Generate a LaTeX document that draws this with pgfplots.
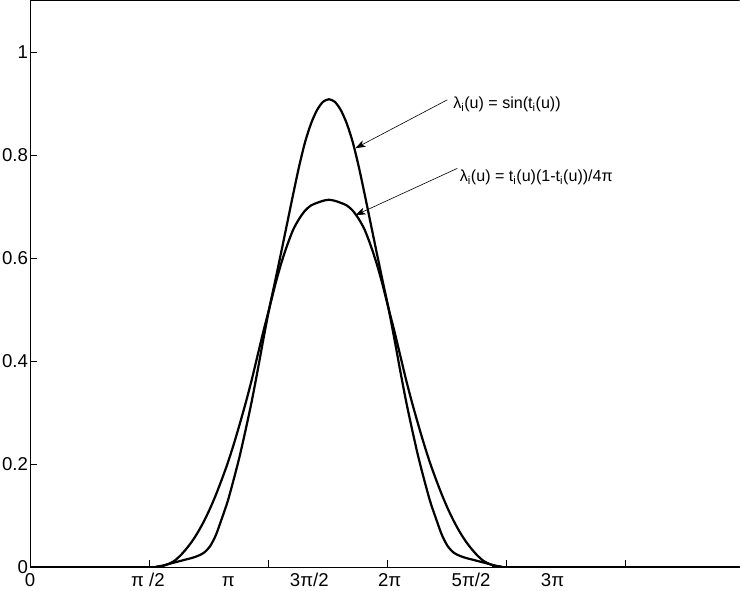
\documentclass[border=0pt]{standalone}
\usepackage{fontspec}
\setmainfont{Liberation Sans}
\usepackage{pgfplots}
\pgfplotsset{compat=1.18}
\usetikzlibrary{arrows.meta}

\begin{document}
\begin{tikzpicture}
\begin{axis}[
  scale only axis, width=706pt, height=564pt,
  xmin=0, xmax=5.96, ymin=0, ymax=1.1,
  axis x line*=bottom, axis y line*=left,
  tick align=inside,
  xtick pos=left, ytick pos=left,
  xtick={0,1,2,3,4,5}, xticklabels={},
  extra x ticks={0,0.99,1.665,2.345,3.02,3.704,4.388},
  extra x tick labels={0,π /2,π,3π/2,2π,5π/2,3π},
  extra x tick style={major tick length=0pt},
  ytick={0,0.2,0.4,0.6,0.8,1},
  yticklabels={0,0.2,0.4,0.6,0.8,1},
  major tick length=7pt,
  tick style={line width=0.7pt, black},
  axis line style={line width=0.7pt, -},
  /pgf/number format/assume math mode=true,
  ticklabel style={font=\fontsize{18.5}{22}\selectfont},
  yticklabel style={inner sep=2pt},
  xticklabel style={inner sep=0pt, yshift=-6pt, text height=13pt, text depth=4pt},
]

% lambda_i(u) = sin(t_i(u))
\addplot[line width=2.2pt, line join=round, smooth, tension=0.45] coordinates {
  (0,0) (1.01,0) (1.06,0.001) (1.11,0.003) (1.16,0.006) (1.21,0.009)
  (1.26,0.012) (1.31,0.015) (1.36,0.018) (1.41,0.022) (1.46,0.028)
  (1.51,0.040) (1.56,0.062) (1.61,0.094) (1.66,0.128) (1.71,0.170)
  (1.76,0.215) (1.81,0.266) (1.86,0.320) (1.91,0.380) (1.96,0.443)
  (2.01,0.503) (2.06,0.557) (2.11,0.612) (2.16,0.668) (2.21,0.724)
  (2.26,0.778) (2.31,0.825) (2.36,0.861) (2.41,0.887) (2.46,0.903)
  (2.51,0.908)
  (2.56,0.903) (2.61,0.887) (2.66,0.861) (2.71,0.825) (2.76,0.778)
  (2.81,0.724) (2.86,0.668) (2.91,0.612) (2.96,0.557) (3.01,0.503)
  (3.06,0.443) (3.11,0.380) (3.16,0.320) (3.21,0.266) (3.26,0.215)
  (3.31,0.170) (3.36,0.128) (3.41,0.094) (3.46,0.062) (3.51,0.040)
  (3.56,0.028) (3.61,0.022) (3.66,0.018) (3.71,0.015) (3.76,0.012)
  (3.81,0.009) (3.86,0.006) (3.91,0.003) (3.96,0.001) (4.01,0) (5.96,0)
};

% lambda_i(u) = t_i(u)(1-t_i(u))/4pi
\addplot[line width=2.2pt, line join=round, smooth, tension=0.45] coordinates {
  (0,0) (1.01,0) (1.06,0.0005) (1.11,0.002) (1.16,0.006) (1.21,0.012)
  (1.26,0.022) (1.31,0.035) (1.36,0.050) (1.41,0.068) (1.46,0.089)
  (1.51,0.113) (1.56,0.140) (1.61,0.170) (1.66,0.202) (1.71,0.238)
  (1.76,0.277) (1.81,0.318) (1.86,0.362) (1.91,0.410) (1.96,0.458)
  (2.01,0.503) (2.06,0.549) (2.11,0.590) (2.16,0.625) (2.21,0.655)
  (2.26,0.676) (2.31,0.692) (2.36,0.702) (2.41,0.707) (2.46,0.711)
  (2.51,0.713)
  (2.56,0.711) (2.61,0.707) (2.66,0.702) (2.71,0.692) (2.76,0.676)
  (2.81,0.655) (2.86,0.625) (2.91,0.590) (2.96,0.549) (3.01,0.503)
  (3.06,0.458) (3.11,0.410) (3.16,0.362) (3.21,0.318) (3.26,0.277)
  (3.31,0.238) (3.36,0.202) (3.41,0.170) (3.46,0.140) (3.51,0.113)
  (3.56,0.089) (3.61,0.068) (3.66,0.050) (3.71,0.035) (3.76,0.022)
  (3.81,0.012) (3.86,0.006) (3.91,0.002) (3.96,0.0005) (4.01,0) (5.96,0)
};

% top frame line (no right spine: the reference is cut there)
\draw[line width=0.7pt] (rel axis cs:0,1) -- (rel axis cs:1,1);

\draw[line width=0.6pt, -{Stealth[length=10pt,width=7pt,inset=2.5pt]}]
  (axis cs:3.505,0.907) -- (axis cs:2.732,0.813);
\draw[line width=0.6pt, -{Stealth[length=10pt,width=7pt,inset=2.5pt]}]
  (axis cs:3.589,0.774) -- (axis cs:2.732,0.683);
\node[anchor=base west, inner sep=0pt, font=\fontsize{16}{19}\selectfont]
  at (axis cs:3.553,0.890) {λ\textsubscript{i}(u) = sin(t\textsubscript{i}(u))};
\node[anchor=base west, inner sep=0pt, font=\fontsize{16}{19}\selectfont]
  at (axis cs:3.609,0.748) {λ\textsubscript{i}(u) = t\textsubscript{i}(u)(1-t\textsubscript{i}(u))/4π};
\end{axis}
\end{tikzpicture}
\end{document}
